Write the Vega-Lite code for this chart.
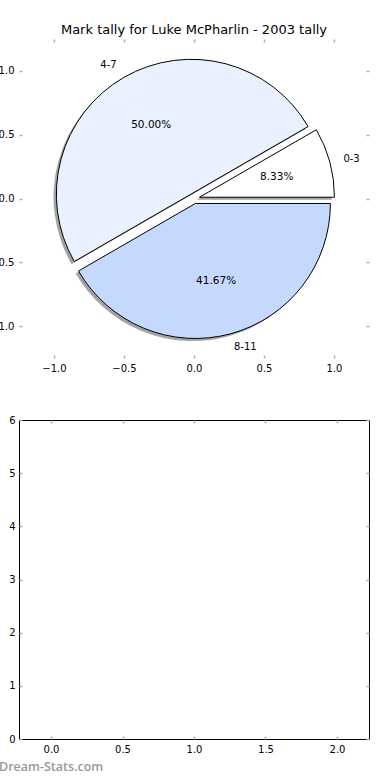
{
  "$schema": "https://vega.github.io/schema/vega-lite/v6.json",
  "autosize": {"type": "pad"},
  "padding": {"left": -11, "top": 24, "right": 0, "bottom": 0},
  "background": "white",
  "bounds": "flush",
  "spacing": 62,
  "config": {
    "font": "DejaVu Sans",
    "view": {"stroke": null},
    "axis": {
      "labelFont": "DejaVu Sans",
      "labelFontSize": 10,
      "labelColor": "#000000",
      "tickColor": "#b0b0b0",
      "tickWidth": 1.5,
      "tickSize": -3,
      "domain": false,
      "grid": false,
      "labelPadding": 8,
      "labelOverlap": false,
      "labelBound": false,
      "labelFlush": false
    }
  },
  "vconcat": [
    {
      "width": 350,
      "height": 319,
      "title": {
        "text": "Mark tally for Luke McPharlin - 2003 tally",
        "font": "DejaVu Sans",
        "fontSize": 13,
        "fontWeight": "normal",
        "color": "#000000",
        "anchor": "middle",
        "offset": 1
      },
      "data": {
        "values": [
          {"range": "0-3", "count": 1, "pct": "8.33%", "cx": 0.039, "cy": 0.01},
          {"range": "4-7", "count": 6, "pct": "50.00%", "cx": -0.02, "cy": 0.035},
          {"range": "8-11", "count": 5, "pct": "41.67%", "cx": 0.01, "cy": -0.039}
        ]
      },
      "resolve": {"axis": {"x": "independent", "y": "independent"}},
      "layer": [
        {
          "mark": {"type": "arc", "outerRadius": 135, "fill": "#4a4a4c", "fillOpacity": 0.5, "xOffset": -2.8, "yOffset": 2.6},
          "encoding": {
            "x": {"field": "cx", "type": "quantitative", "scale": {"domain": [-1.25, 1.25], "nice": false, "zero": false},
              "axis": {"orient": "bottom", "values": [-1, -0.5, 0, 0.5, 1], "format": ".1f", "title": null}},
            "y": {"field": "cy", "type": "quantitative", "scale": {"domain": [-1.25, 1.25], "nice": false, "zero": false},
              "axis": {"orient": "left", "values": [-1, -0.5, 0, 0.5, 1], "format": ".1f", "title": null}},
            "theta": {"field": "count", "type": "quantitative", "stack": true, "scale": {"domain": [0, 12], "range": [1.5707963, -4.712389]}},
            "order": {"field": "range", "sort": "ascending"},
            "detail": {"field": "range"}
          }
        },
        {
          "mark": {"type": "arc", "outerRadius": 135, "stroke": "#000000", "strokeWidth": 1},
          "encoding": {
            "x": {"field": "cx", "type": "quantitative",
              "axis": {"orient": "top", "values": [-1, -0.5, 0, 0.5, 1], "labels": false, "title": null}},
            "y": {"field": "cy", "type": "quantitative",
              "axis": {"orient": "right", "values": [-1, -0.5, 0, 0.5, 1], "labels": false, "title": null}},
            "theta": {"field": "count", "type": "quantitative", "stack": true},
            "order": {"field": "range", "sort": "ascending"},
            "color": {"field": "range", "type": "nominal", "scale": {"domain": ["0-3", "4-7", "8-11"], "range": ["#ffffff", "#eaf1fe", "#c5d9fe"]}, "legend": null}
          }
        },
        {
          "mark": {"type": "text", "radius": 149, "align": "left", "baseline": "middle", "fontSize": 10, "color": "#000000"},
          "encoding": {
            "x": {"field": "cx", "type": "quantitative", "axis": null},
            "y": {"field": "cy", "type": "quantitative", "axis": null},
            "theta": {"field": "count", "type": "quantitative", "stack": true},
            "order": {"field": "range", "sort": "ascending"},
            "detail": {"field": "range"},
            "text": {"condition": {"test": "datum.range === '4-7'", "value": ""}, "field": "range"}
          }
        },
        {
          "mark": {"type": "text", "radius": 149, "align": "right", "baseline": "middle", "fontSize": 10, "color": "#000000"},
          "encoding": {
            "x": {"field": "cx", "type": "quantitative", "axis": null},
            "y": {"field": "cy", "type": "quantitative", "axis": null},
            "theta": {"field": "count", "type": "quantitative", "stack": true},
            "order": {"field": "range", "sort": "ascending"},
            "detail": {"field": "range"},
            "text": {"condition": {"test": "datum.range !== '4-7'", "value": ""}, "field": "range"}
          }
        },
        {
          "mark": {"type": "text", "radius": 80, "align": "center", "baseline": "middle", "fontSize": 10.5, "color": "#000000"},
          "encoding": {
            "x": {"field": "cx", "type": "quantitative", "axis": null},
            "y": {"field": "cy", "type": "quantitative", "axis": null},
            "theta": {"field": "count", "type": "quantitative", "stack": true},
            "order": {"field": "range", "sort": "ascending"},
            "detail": {"field": "range"},
            "text": {"field": "pct"}
          }
        }
      ]
    },
    {
      "width": 350,
      "height": 319,
      "view": {"stroke": "#000000", "strokeWidth": 1},
      "title": {
        "text": "Dream-Stats.com",
        "orient": "bottom",
        "anchor": "start",
        "frame": "group",
        "dx": -20,
        "offset": 7,
        "font": "Open Sans",
        "fontSize": 12.5,
        "fontWeight": 600,
        "color": "#999999"
      },
      "data": {"values": [{"v": 0}]},
      "resolve": {"axis": {"x": "independent", "y": "independent"}},
      "layer": [
        {
          "mark": {"type": "point", "opacity": 0},
          "encoding": {
            "x": {"datum": 0, "type": "quantitative", "scale": {"domain": [-0.224, 2.224], "nice": false, "zero": false},
              "axis": {"orient": "bottom", "values": [0, 0.5, 1, 1.5, 2], "format": ".1f", "title": null}},
            "y": {"datum": 0, "type": "quantitative", "scale": {"domain": [0, 6], "nice": false},
              "axis": {"orient": "left", "values": [0, 1, 2, 3, 4, 5, 6], "format": "d", "title": null, "labelPadding": 7}}
          }
        },
        {
          "mark": {"type": "point", "opacity": 0},
          "encoding": {
            "x": {"datum": 0, "type": "quantitative",
              "axis": {"orient": "top", "values": [0, 0.5, 1, 1.5, 2], "labels": false, "title": null}},
            "y": {"datum": 0, "type": "quantitative",
              "axis": {"orient": "right", "values": [0, 1, 2, 3, 4, 5, 6], "labels": false, "title": null}}
          }
        }
      ]
    }
  ]
}
